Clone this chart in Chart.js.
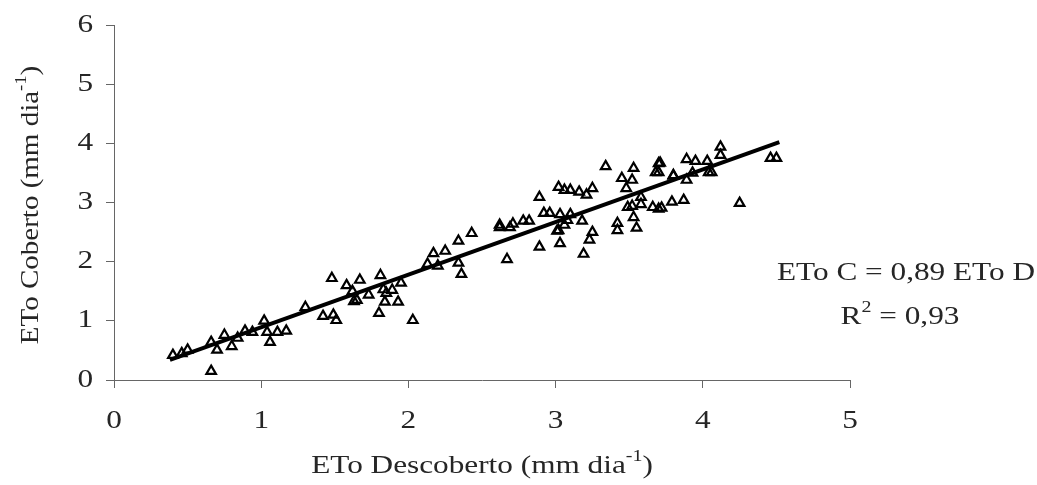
<!DOCTYPE html>
<html>
<head>
<meta charset="utf-8">
<script src="https://cdn.jsdelivr.net/npm/chart.js@4/dist/chart.umd.min.js"></script>
<style>
  html, body { margin: 0; padding: 0; background: #fff; }
  #wrap { width: 1037px; height: 485px; }
</style>
</head>
<body>
<div id="wrap"><canvas id="chart" width="1037" height="485"></canvas></div>
<script>
'use strict';

// ETo descoberto (x) e ETo coberto (y), mm/dia
const etoDescoberto = [
    0.40, 0.50, 0.66, 0.70, 0.75, 0.80, 0.84, 0.89, 0.94, 1.02, 1.04, 1.06, 1.11, 1.17, 1.30, 1.42, 1.48, 0.66,
    1.58, 1.62, 1.67, 1.65, 1.63, 1.73, 1.81, 1.83, 1.85, 1.89, 1.84, 1.93, 1.95, 1.80, 1.49, 1.51, 2.03,
    2.13, 2.17, 2.25, 2.20, 2.34, 2.34, 2.36, 2.43, 2.62, 2.67, 2.69,
    3.34, 3.53, 3.70, 3.68, 3.80, 3.45, 3.52, 3.48, 2.89, 3.02, 3.06, 3.10, 3.16, 3.21, 3.25,
    2.92, 2.96, 3.03, 3.10, 3.06, 3.18, 3.01, 3.03, 2.89, 2.62, 2.71, 2.78, 2.82, 3.25, 3.23, 3.19,
    3.42, 3.42, 3.55, 3.49, 3.53, 3.58, 3.58, 3.66, 3.72, 3.79,
    4.12, 4.12, 4.46, 4.50, 3.71, 3.70, 3.89, 3.95, 4.03, 3.80, 3.89, 4.04, 4.06, 3.93, 3.87, 3.70, 4.25,
    3.02, 3.08, 0.46, 3.52
];
const etoCoberto = [
    0.42, 0.51, 0.64, 0.51, 0.76, 0.57, 0.71, 0.83, 0.81, 1.00, 0.81, 0.64, 0.81, 0.83, 1.23, 1.08, 1.72, 0.15,
    1.60, 1.50, 1.69, 1.35, 1.33, 1.44, 1.77, 1.53, 1.47, 1.52, 1.32, 1.32, 1.64, 1.13, 1.10, 1.01, 1.01,
    1.96, 2.14, 2.18, 1.93, 2.35, 1.98, 1.79, 2.48, 2.58, 2.04, 2.58,
    3.61, 3.58, 3.66, 3.51, 3.45, 3.41, 3.38, 3.24, 3.09, 3.26, 3.21, 3.21, 3.18, 3.13, 3.24,
    2.82, 2.82, 2.80, 2.80, 2.62, 2.69, 2.52, 2.31, 2.25, 2.62, 2.64, 2.69, 2.69, 2.50, 2.37, 2.13,
    2.65, 2.53, 2.57, 2.92, 2.75, 2.97, 3.09, 2.92, 2.91, 3.01,
    3.94, 3.80, 3.75, 3.75, 3.67, 3.51, 3.73, 3.70, 3.70, 3.46, 3.38, 3.51, 3.51, 3.50, 3.04, 2.89, 2.99,
    2.53, 2.70, 0.45, 2.94
];

// reta ajustada ETo C = 0,89 ETo D
const fitX = [0.38, 4.52];
const fitY = [0.34, 4.02];

const xTicks = [0, 1, 2, 3, 4, 5];
const yTicks = [0, 1, 2, 3, 4, 5, 6];

const FONT = '"Liberation Serif", "Times New Roman", serif';
const FONT_SIZE = 25;

// text with superscript parts: [[text, isSup], ...], centred on (cx, cy)
// the original text is wider than Times, hence the stretch
function drawRich(ctx, parts, cx, cy, size, align, stretch) {
    const sx = stretch || 1.25;
    const supSize = Math.round(size * 0.62);
    let total = 0;
    parts.forEach((p) => {
        ctx.font = (p[1] ? supSize : size) + 'px ' + FONT;
        total += ctx.measureText(p[0]).width;
    });
    ctx.save();
    ctx.translate(cx, cy);
    ctx.scale(sx, 1);
    let x = align === 'right' ? -total : -total / 2;
    parts.forEach((p) => {
        ctx.font = (p[1] ? supSize : size) + 'px ' + FONT;
        ctx.fillText(p[0], x, p[1] ? -size * 0.38 : 0);
        x += ctx.measureText(p[0]).width;
    });
    ctx.restore();
}

const textPlugin = {
    id: 'texts',
    afterDraw(chart) {
        const ctx = chart.ctx;
        const area = chart.chartArea;
        const xs = chart.scales.x;
        const ys = chart.scales.y;
        ctx.save();
        ctx.fillStyle = '#262626';
        ctx.textBaseline = 'middle';
        ctx.textAlign = 'left';

        // tick labels
        xTicks.forEach((v) => drawRich(ctx, [[String(v), false]], xs.getPixelForValue(v), 421, FONT_SIZE));
        yTicks.forEach((v) => drawRich(ctx, [[String(v), false]], 93, ys.getPixelForValue(v), FONT_SIZE, 'right'));

        // x axis title
        drawRich(ctx, [['ETo Descoberto (mm dia', false], ['-1', true], [')', false]],
            (area.left + area.right) / 2, 466, FONT_SIZE);

        // y axis title
        ctx.save();
        ctx.translate(31, 205);
        ctx.rotate(-Math.PI / 2);
        drawRich(ctx, [['ETo Coberto (mm dia', false], ['-1', true], [')', false]], 0, 0, FONT_SIZE, 'center', 1.16);
        ctx.restore();

        // equação
        drawRich(ctx, [['ETo C = 0,89 ETo D', false]], 906, 273, FONT_SIZE);
        drawRich(ctx, [['R', false], ['2', true], [' = 0,93', false]], 900, 317, FONT_SIZE);
        ctx.restore();
    }
};

const points = etoDescoberto.map((x, i) => ({ x: x, y: etoCoberto[i] }));
const fitLine = fitX.map((x, i) => ({ x: x, y: fitY[i] }));

const axisGrid = {
    display: true,
    drawOnChartArea: false,
    drawTicks: true,
    tickLength: 8,
    color: '#666',
    lineWidth: 1
};

new Chart(document.getElementById('chart').getContext('2d'), {
    type: 'scatter',
    data: {
        datasets: [{
            type: 'line',
            data: fitLine,
            borderColor: '#000',
            borderWidth: 4,
            pointRadius: 0,
            fill: false,
            order: 0
        }, {
            data: points,
            pointStyle: 'triangle',
            pointRadius: 5.5,
            borderColor: '#000',
            borderWidth: 2.2,
            backgroundColor: 'rgba(255,255,255,0)',
            order: 1
        }]
    },
    options: {
        responsive: false,
        animation: false,
        devicePixelRatio: 1,
        layout: { padding: { top: 25, right: 187, left: 0, bottom: 0 } },
        plugins: {
            legend: { display: false },
            tooltip: { enabled: false }
        },
        scales: {
            x: {
                type: 'linear',
                min: 0,
                max: 5,
                afterBuildTicks: (scale) => { scale.ticks = xTicks.map(v => ({ value: v })); },
                afterFit: (scale) => { scale.height = 105; },
                grid: axisGrid,
                border: { display: true, color: '#666', width: 1 },
                ticks: { display: false }
            },
            y: {
                type: 'linear',
                min: 0,
                max: 6,
                afterBuildTicks: (scale) => { scale.ticks = yTicks.map(v => ({ value: v })); },
                afterFit: (scale) => { scale.width = 114; },
                grid: axisGrid,
                border: { display: true, color: '#666', width: 1 },
                ticks: { display: false }
            }
        }
    },
    plugins: [textPlugin]
});
</script>
</body>
</html>
